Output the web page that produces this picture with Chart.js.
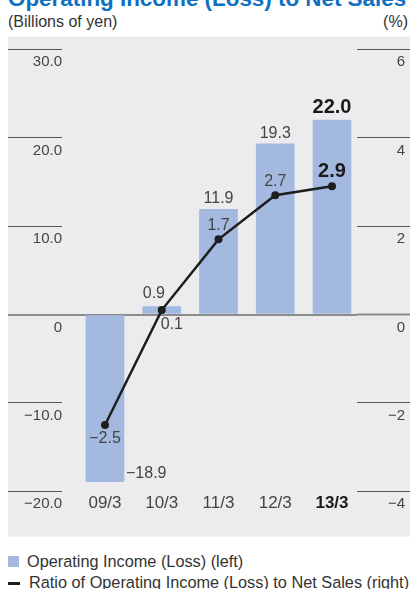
<!DOCTYPE html>
<html>
<head>
<meta charset="utf-8">
<script src="https://cdn.jsdelivr.net/npm/chart.js@4/dist/chart.umd.min.js"></script>
<style>
    html, body { margin: 0; padding: 0; background: #fff; }
    body { width: 410px; height: 589px; position: relative; overflow: hidden;
           font-family: 'Liberation Sans', Arial, sans-serif; color: #333; }
    #title { position: absolute; left: 8px; top: -12px; font-size: 22.4px; line-height: 22px;
             font-weight: bold; color: #0f70c3; white-space: nowrap; }
    .unit { position: absolute; top: 14px; font-size: 16px; line-height: 16px; color: #333; }
    #chartBox { position: absolute; left: 0; top: 0; }
    .legend { position: absolute; left: 8px; font-size: 16.3px; line-height: 16px; color: #333; white-space: nowrap; }
    .legend i { display: inline-block; vertical-align: top; }
    .sq { width: 11px; height: 11px; background: #a3b9df; margin: 3px 8px 0 0; }
    .dash { width: 12px; height: 3px; background: #1e1e1e; margin: 8px 9px 0 0; }
</style>
</head>
<body>
<div id="title">Operating Income (Loss) to Net Sales</div>
<div class="unit" style="left:8px">(Billions of yen)</div>
<div class="unit" style="right:2px">(%)</div>
<canvas id="chartBox" width="410" height="540"></canvas>
<div class="legend" style="top:553px"><i class="sq"></i>Operating Income (Loss) (left)</div>
<div class="legend" style="top:574px"><i class="dash"></i>Ratio of Operating Income (Loss) to Net Sales (right)</div>

<script>
// Valores
const categories = ['09/3', '10/3', '11/3', '12/3', '13/3'];
const operatingIncome = [-18.9, 0.9, 11.9, 19.3, 22.0];
const incomeRatio = [-2.5, 0.1, 1.7, 2.7, 2.9];
const leftTickLabels = ['\u221220.0', '\u221210.0', '0', '10.0', '20.0', '30.0'];
const rightTickLabels = ['\u22124', '\u22122', '0', '2', '4', '6'];

const fontFamily = "'Liberation Sans', Arial, sans-serif";
const lastIndex = categories.length - 1;

function fmt(v) {
    return v.toFixed(1).replace('-', '\u2212');
}

// Fundo cinza do painel
const panel = {
    id: 'panel',
    beforeDraw(chart) {
        const ctx = chart.ctx;
        ctx.save();
        ctx.fillStyle = '#ececee';
        ctx.fillRect(8, 36.7, chart.width - 8, 500);
        ctx.restore();
    }
};

// Rótulos de valor das barras e da linha
const valueLabels = {
    id: 'valueLabels',
    afterDatasetsDraw(chart) {
        const ctx = chart.ctx;
        const bars = chart.getDatasetMeta(0).data;
        const points = chart.getDatasetMeta(1).data;
        ctx.save();
        ctx.textBaseline = 'middle';

        bars.forEach(function (bar, i) {
            const last = i === lastIndex;
            ctx.font = last ? 'bold 20px ' + fontFamily : '16px ' + fontFamily;
            ctx.fillStyle = last ? '#1a1a1a' : '#444';
            let x = bar.x, y = bar.y - 10.5;
            ctx.textAlign = 'center';
            if (i === 0) {
                ctx.textAlign = 'left';
                x = bar.x + bar.width / 2 + 2;
                y = bar.y - 7.5;
            } else if (i === 1) {
                ctx.textAlign = 'left';
                x = bar.x - bar.width / 2;
                y = bar.y - 13;
            } else if (last) {
                y = bar.y - 12.5;
            }
            ctx.fillText(fmt(operatingIncome[i]), x, y);
        });

        points.forEach(function (pt, i) {
            const last = i === lastIndex;
            ctx.font = last ? 'bold 20px ' + fontFamily : '16px ' + fontFamily;
            ctx.fillStyle = last ? '#1a1a1a' : '#444';
            let x = pt.x, y = pt.y - 14;
            ctx.textAlign = 'center';
            if (i === 0) {
                y = pt.y + 14;
            } else if (i === 1) {
                ctx.textAlign = 'left';
                x = pt.x - 1;
                y = pt.y + 14.5;
            } else if (last) {
                y = pt.y - 14.5;
            }
            ctx.fillText(fmt(incomeRatio[i]), x, y);
        });
        ctx.restore();
    }
};

function tickColor(ctx) {
    return ctx.tick && ctx.tick.value === 0 ? '#8c8c8c' : '#555';
}
function tickWidth(ctx) {
    return ctx.tick && ctx.tick.value === 0 ? 2 : 1;
}

new Chart('chartBox', {
    type: 'bar',
    data: {
        datasets: [{
            type: 'bar',
            label: 'Operating Income (Loss) (left)',
            data: operatingIncome.map((v, i) => ({ x: i, y: v })),
            backgroundColor: '#a3b9df',
            barThickness: 38,
            yAxisID: 'y',
            order: 1
        }, {
            type: 'line',
            label: 'Ratio of Operating Income (Loss) to Net Sales (right)',
            data: incomeRatio.map((v, i) => ({ x: i, y: v })),
            borderColor: '#1e1e1e',
            backgroundColor: '#1e1e1e',
            borderWidth: 2.5,
            pointRadius: 4,
            pointBorderWidth: 0,
            tension: 0,
            yAxisID: 'y1',
            order: 0
        }]
    },
    options: {
        responsive: false,
        animation: false,
        layout: { padding: { left: 8, right: 0, top: 49.3, bottom: 18.7 } },
        plugins: {
            legend: { display: false },
            tooltip: { enabled: false }
        },
        scales: {
            x: {
                type: 'linear',
                offset: false,
                min: -0.7577,
                max: 4.4405,
                grid: { display: false },
                border: { display: false },
                afterFit: s => { s.height = 30; },
                ticks: {
                    stepSize: 1,
                    includeBounds: false,
                    maxRotation: 0,
                    autoSkip: false,
                    padding: -6,
                    color: c => (c.tick && c.tick.value === lastIndex ? '#1a1a1a' : '#444'),
                    font: c => ({
                        family: fontFamily,
                        size: 17,
                        weight: c.tick && c.tick.value === lastIndex ? 'bold' : 'normal'
                    }),
                    callback: v => (categories[v] !== undefined ? categories[v] : '')
                }
            },
            y: {
                position: 'left',
                min: -20,
                max: 30,
                z: 1,
                border: { display: false },
                grid: {
                    drawOnChartArea: true,
                    color: c => (c.tick && c.tick.value === 0 ? '#8c8c8c' : 'rgba(0,0,0,0)'),
                    lineWidth: tickWidth,
                    tickColor: tickColor,
                    tickWidth: tickWidth,
                    tickLength: 54
                },
                afterFit: s => { s.width = 54; s.paddingTop = 0; s.paddingBottom = 0; },
                ticks: {
                    stepSize: 10,
                    padding: -54,
                    crossAlign: 'near',
                    labelOffset: 13,
                    color: '#444',
                    font: { family: fontFamily, size: 15 },
                    callback: (v, i) => leftTickLabels[i]
                }
            },
            y1: {
                position: 'right',
                min: -4,
                max: 6,
                border: { display: false },
                grid: {
                    drawOnChartArea: false,
                    tickColor: tickColor,
                    tickWidth: tickWidth,
                    tickLength: 53
                },
                afterFit: s => { s.width = 53; s.paddingTop = 0; s.paddingBottom = 0; },
                ticks: {
                    stepSize: 2,
                    mirror: true,
                    padding: 48,
                    crossAlign: 'near',
                    labelOffset: 13,
                    color: '#444',
                    font: { family: fontFamily, size: 15 },
                    callback: (v, i) => rightTickLabels[i]
                }
            }
        }
    },
    plugins: [panel, valueLabels]
});
</script>
</body>
</html>
